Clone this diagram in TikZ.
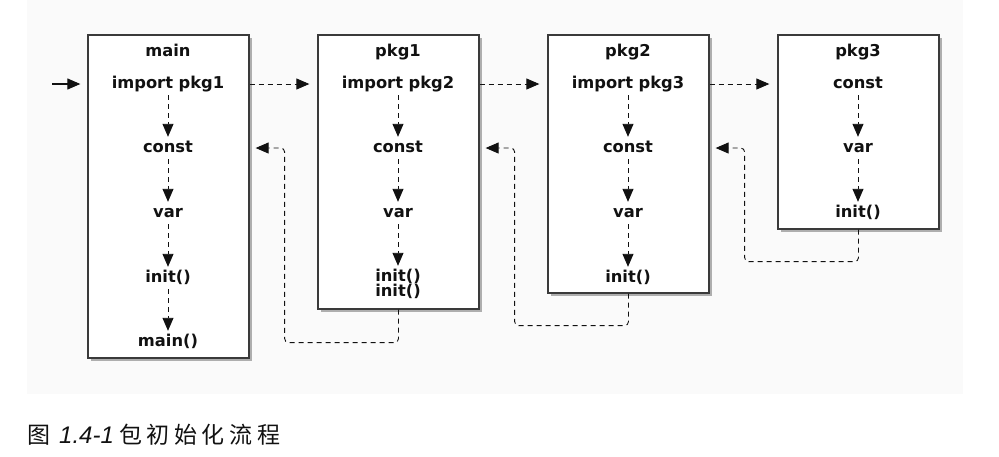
\documentclass[tikz,border=0pt]{standalone}
\usepackage{fontspec}
\setmainfont{DejaVu Sans}
\newfontfamily\cjk{Noto Sans CJK SC}[LetterSpace=20]
\newfontfamily\capnum{Liberation Sans}
\usetikzlibrary{arrows.meta,shadows,calc}
\definecolor{bg}{HTML}{FAFAFA}
\definecolor{edge}{HTML}{3A3A3A}
\definecolor{ink}{HTML}{111111}
\begin{document}
\begin{tikzpicture}[x=1pt,y=-1pt,
  box/.style={draw=edge, line width=1.3pt, fill=white, minimum width=161pt,
    drop shadow={shadow xshift=3pt, shadow yshift=-3pt, fill=black, opacity=0.3}},
  lbl/.style={font=\bfseries\fontsize{16.3}{17}\selectfont, text=ink,
    text height=11pt, text depth=3pt, inner sep=4pt},
  flow/.style={draw=ink, line width=0.9pt, dash pattern=on 5pt off 4pt,
    -{Triangle[length=13pt,width=11pt]}},
  ret/.style={flow, rounded corners=4pt, shorten >=6pt},
  fwd/.style={flow, shorten >=8pt},
  entryarrow/.style={draw=ink, line width=1.1pt, -{Triangle[length=13pt,width=11pt]}, shorten >=7pt},
  capcjk/.style={font=\cjk\fontsize{23}{24}\selectfont, text=ink, inner sep=0pt, anchor=west},
  capnumst/.style={font=\capnum\itshape\fontsize{24}{25}\selectfont, text=ink, inner sep=0pt, anchor=west}
]
\useasboundingbox (0,0) rectangle (999,456);
\fill[bg] (27,0) rectangle (963,394);

% boxes
\node[box, minimum height=323pt] (mainbox) at (168.5,196.5) {};
\node[box, minimum height=274pt] (p1box) at (398.5,172) {};
\node[box, minimum height=258pt] (p2box) at (628.5,164) {};
\node[box, minimum height=194pt] (p3box) at (858.5,132) {};

% main
\node[lbl] (mtitle) at (168,52) {main};
\node[lbl] (mimport) at (168,84) {import pkg1};
\node[lbl] (mconst) at (168,148) {const};
\node[lbl] (mvar) at (168,213) {var};
\node[lbl] (minit) at (168,278) {init()};
\node[lbl] (mmain) at (168,342) {main()};
% pkg1
\node[lbl] (p1title) at (398,52) {pkg1};
\node[lbl] (p1import) at (398,84) {import pkg2};
\node[lbl] (p1const) at (398,148) {const};
\node[lbl] (p1var) at (398,213) {var};
\node[lbl] (p1inita) at (398,277) {init()};
\node[lbl] (p1initb) at (398,292) {init()};
% pkg2
\node[lbl] (p2title) at (628,52) {pkg2};
\node[lbl] (p2import) at (628,84) {import pkg3};
\node[lbl] (p2const) at (628,148) {const};
\node[lbl] (p2var) at (628,213) {var};
\node[lbl] (p2init) at (628,278) {init()};
% pkg3
\node[lbl] (p3title) at (858,52) {pkg3};
\node[lbl] (p3const) at (858,84) {const};
\node[lbl] (p3var) at (858,148) {var};
\node[lbl] (p3init) at (858,213) {init()};

% vertical flows
\draw[flow] (mimport) -- (mconst);
\draw[flow] (mconst) -- (mvar);
\draw[flow] (mvar) -- (minit);
\draw[flow] (minit) -- (mmain);
\draw[flow] (p1import) -- (p1const);
\draw[flow] (p1const) -- (p1var);
\draw[flow] (p1var) -- (p1inita);
\draw[flow] (p2import) -- (p2const);
\draw[flow] (p2const) -- (p2var);
\draw[flow] (p2var) -- (p2init);
\draw[flow] (p3const) -- (p3var);
\draw[flow] (p3var) -- (p3init);

% entry and forward imports
\coordinate (entry) at (52,84);
\draw[entryarrow] (entry) -- (mimport -| mainbox.west);
\draw[fwd] (mimport -| mainbox.east) -- (p1import -| p1box.west);
\draw[fwd] (p1import -| p1box.east) -- (p2import -| p2box.west);
\draw[fwd] (p2import -| p2box.east) -- (p3const -| p3box.west);

% returns
\draw[ret] (p1box.south) -- ++(0,33) -| ([xshift=35pt]mainbox.east |- mconst) -- (mainbox.east |- mconst);
\draw[ret] (p2box.south) -- ++(0,32) -| ([xshift=35pt]p1box.east |- p1const) -- (p1box.east |- p1const);
\draw[ret] (p3box.south) -- ++(0,32) -| ([xshift=35pt]p2box.east |- p2const) -- (p2box.east |- p2const);

% caption
\node[capcjk] (cap1) at (27,435) {图};
\node[capnumst] (cap2) at (59,435) {1.4-1};
\node[capcjk] (cap3) at (119,435) {包初始化流程};
\end{tikzpicture}
\end{document}
